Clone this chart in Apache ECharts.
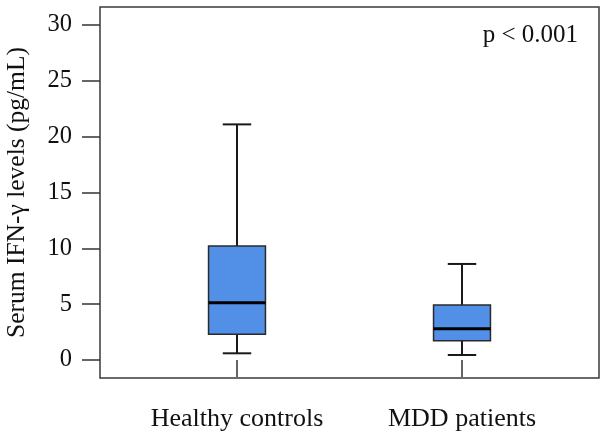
<!DOCTYPE html>
<html>
<head>
<meta charset="utf-8">
<script src="https://cdn.jsdelivr.net/npm/echarts@6/dist/echarts.min.js"></script>
<style>html,body{margin:0;padding:0;background:#fff}#c{width:607px;height:438px}</style>
</head>
<body>
<div id="c"></div>
<script>
const categories = ['Healthy controls', 'MDD patients'];
const minVals    = [0.6, 0.45];
const q1Vals     = [2.3, 1.73];
const medianVals = [5.13, 2.8];
const q3Vals     = [10.2, 4.93];
const maxVals    = [21.1, 8.6];
const pText = 'p < 0.001';
const yAxisName = 'Serum IFN-\u03b3 levels (pg/mL)';

const FONT = '"Liberation Serif", "Times New Roman", serif';
const seriesData = categories.map((c, i) => [i, minVals[i], q1Vals[i], medianVals[i], q3Vals[i], maxVals[i]]);

const chart = echarts.init(document.getElementById('c'), null, {renderer: 'canvas'});
chart.setOption({
  animation: false,
  backgroundColor: '#fff',
  grid: [
    {left: 100, top: 7, width: 499, height: 371, show: true, borderColor: '#3a3a3a', borderWidth: 1.5,
     backgroundColor: 'transparent', containLabel: false, outerBoundsMode: 'none'},
    {left: 124.5, top: 25, width: 450, height: 335, containLabel: false, outerBoundsMode: 'none'}
  ],
  xAxis: [
    {gridIndex: 0, type: 'value', show: false},
    {gridIndex: 1, type: 'category', data: categories, boundaryGap: true, offset: 18,
     axisLine: {show: false},
     axisTick: {show: true, alignWithLabel: true, interval: 0, length: 17, lineStyle: {color: '#333', width: 1.5}},
     axisLabel: {interval: 0, hideOverlap: false, fontSize: 26, color: '#111', fontFamily: FONT, margin: 28}}
  ],
  yAxis: [
    {gridIndex: 0, type: 'value', show: false},
    {gridIndex: 1, type: 'value', min: 0, max: 30, interval: 5, offset: 24.5,
     axisLine: {show: false},
     axisTick: {show: true, length: 18, lineStyle: {color: '#333', width: 1.5}},
     splitLine: {show: false},
     axisLabel: {fontSize: 24.5, color: '#111', fontFamily: FONT, margin: 28},
     name: yAxisName, nameLocation: 'middle', nameGap: 70,
     nameTextStyle: {fontSize: 25.5, color: '#111', fontFamily: FONT}}
  ],
  graphic: [
    {type: 'text', right: 29, top: 23,
     style: {text: pText, fontSize: 25, fontFamily: FONT, fill: '#111'}}
  ],
  series: [{
    type: 'custom',
    xAxisIndex: 1, yAxisIndex: 1,
    encode: {x: 0, y: [1, 2, 3, 4, 5]},
    data: seriesData,
    renderItem: function (params, api) {
      const x = api.value(0);
      const pMin = api.coord([x, api.value(1)]);
      const pQ1 = api.coord([x, api.value(2)]);
      const pMed = api.coord([x, api.value(3)]);
      const pQ3 = api.coord([x, api.value(4)]);
      const pMax = api.coord([x, api.value(5)]);
      const band = api.size([1, 0])[0];
      const bw = band * 0.253;
      const cw = bw / 2;
      const cx = pMed[0];
      const lineStyle = {stroke: '#1a1a1a', lineWidth: 2};
      return {
        type: 'group',
        children: [
          {type: 'line', shape: {x1: cx, y1: pMax[1], x2: cx, y2: pQ3[1]}, style: lineStyle},
          {type: 'line', shape: {x1: cx, y1: pMin[1], x2: cx, y2: pQ1[1]}, style: lineStyle},
          {type: 'line', shape: {x1: cx - cw / 2, y1: pMax[1], x2: cx + cw / 2, y2: pMax[1]}, style: lineStyle},
          {type: 'line', shape: {x1: cx - cw / 2, y1: pMin[1], x2: cx + cw / 2, y2: pMin[1]}, style: lineStyle},
          {type: 'rect', shape: {x: cx - bw / 2, y: pQ3[1], width: bw, height: pQ1[1] - pQ3[1]},
           style: {fill: '#5190e6', stroke: '#2a2a2a', lineWidth: 1.5}},
          {type: 'line', shape: {x1: cx - bw / 2, y1: pMed[1], x2: cx + bw / 2, y2: pMed[1]},
           style: {stroke: '#000', lineWidth: 3}}
        ]
      };
    }
  }]
});
</script>
</body>
</html>
